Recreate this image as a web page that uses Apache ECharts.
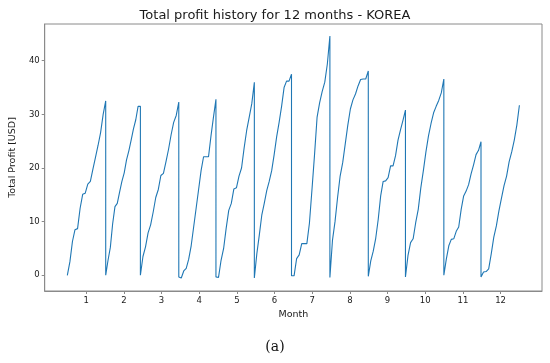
<!DOCTYPE html>
<html>
<head>
<meta charset="utf-8">
<script src="https://cdn.jsdelivr.net/npm/echarts@6/dist/echarts.min.js"></script>
<style>
html,body{margin:0;padding:0;background:#fff;}
#chart{width:550px;height:363px;}
</style>
</head>
<body>
<div id="chart"></div>
<script>
// ---- data ----
const monthDays = [31, 28, 31, 30, 31, 30, 31, 31, 30, 31, 30, 31];
const xTicks = [1, 2, 3, 4, 5, 6, 7, 8, 9, 10, 11, 12];
const yTicks = [0, 10, 20, 30, 40];
// cumulative profit, 16 evenly spaced readings through each month
const m1  = [0, 2.5, 6.3, 8.5, 8.7, 12.5, 15.1, 15.3, 17.0, 17.5, 19.8, 22.0, 24.2, 26.6, 30.0, 32.5];
const m2  = [0, 2.8, 5.2, 9.6, 12.8, 13.4, 15.5, 17.5, 19.1, 21.5, 23.2, 25.2, 27.3, 29.0, 31.5, 31.5];
const m3  = [0, 3.5, 5.3, 7.9, 9.4, 11.8, 14.5, 16.0, 18.6, 19.0, 21.2, 23.5, 26.2, 28.5, 29.8, 32.3];
const m4  = [-0.3, -0.5, 0.8, 1.3, 3.0, 5.5, 9.0, 12.5, 16.0, 19.5, 22.1, 22.1, 22.1, 26.0, 29.5, 32.8];
const m5  = [-0.3, -0.4, 2.8, 5.0, 8.8, 12.1, 13.4, 16.1, 16.3, 18.5, 20.0, 23.7, 27.0, 29.5, 32.0, 36.0];
const m6  = [-0.5, 4.0, 7.5, 11.2, 13.4, 15.8, 17.5, 19.5, 22.5, 25.8, 28.5, 31.5, 35.0, 36.2, 36.2, 37.5];
const m7  = [-0.1, -0.1, 3.1, 3.8, 5.9, 5.9, 5.9, 9.7, 16.0, 22.5, 29.5, 32.2, 34.3, 36.0, 39.4, 44.6];
const m8  = [-0.4, 6.5, 10.0, 14.5, 18.5, 21.0, 24.5, 28.0, 31.0, 32.7, 33.8, 35.3, 36.5, 36.6, 36.6, 38.1];
const m9  = [-0.2, 2.7, 4.5, 6.9, 10.4, 14.8, 17.5, 17.6, 18.2, 20.4, 20.4, 22.3, 25.2, 27.1, 28.9, 30.8];
const m10 = [-0.3, 3.7, 6.1, 6.8, 9.8, 12.3, 16.3, 19.5, 23.0, 26.0, 28.3, 30.3, 31.5, 32.6, 34.0, 36.6];
const m11 = [0, 3.0, 5.5, 6.7, 6.8, 8.2, 9.0, 12.3, 14.8, 15.7, 16.9, 18.9, 20.6, 22.5, 23.3, 24.9];
const m12 = [-0.3, 0.6, 0.7, 1.2, 4.0, 7.1, 9.2, 12.0, 14.4, 16.7, 18.5, 21.2, 23.0, 25.2, 28.0, 31.7];
const monthly = [m1, m2, m3, m4, m5, m6, m7, m8, m9, m10, m11, m12];

// build series: x = 0.5 + dayOfYear * 12 / 365
const seriesData = [];
let startDay = 0;
monthly.forEach((vals, i) => {
  const n = vals.length - 1;
  vals.forEach((v, k) => {
    const day = startDay + (k / n) * monthDays[i];
    seriesData.push([0.5 + day * 12 / 365, v]);
  });
  startDay += monthDays[i];
});

const chart = echarts.init(document.getElementById('chart'), null, {renderer: 'canvas'});
const txt = '#1a1a1a';
const frame = '#8a8a8a';
chart.setOption({
  animation: false,
  backgroundColor: '#fff',
  title: {
    text: 'Total profit history for 12 months - KOREA',
    left: 'center', top: 4,
    textStyle: {fontFamily: 'DejaVu Sans', fontSize: 13, fontWeight: 'normal', color: txt}
  },
  grid: {left: 39, right: 8, top: 24, bottom: 72, show: true, borderColor: frame, borderWidth: 1, backgroundColor: 'transparent'},
  xAxis: {
    type: 'value', min: -0.1, max: 13.1,
    name: 'Month', nameLocation: 'middle', nameGap: 13,
    nameTextStyle: {fontFamily: 'DejaVu Sans', fontSize: 9.5, color: txt},
    axisLine: {show: true, onZero: false, lineStyle: {color: frame, width: 1}},
    axisTick: {show: true, length: 3, customValues: xTicks, lineStyle: {color: frame}},
    axisLabel: {customValues: xTicks, margin: 5, fontFamily: 'DejaVu Sans', fontSize: 8.5, color: txt},
    splitLine: {show: false}
  },
  yAxis: {
    type: 'value', min: -2.93, max: 46.85,
    name: 'Total Profit [USD]', nameLocation: 'middle', nameGap: 15, nameRotate: 90,
    nameTextStyle: {fontFamily: 'DejaVu Sans', fontSize: 9.5, color: txt},
    axisLine: {show: true, onZero: false, lineStyle: {color: frame, width: 1}},
    axisTick: {show: true, length: 3, customValues: yTicks, lineStyle: {color: frame}},
    axisLabel: {customValues: yTicks, margin: 5, fontFamily: 'DejaVu Sans', fontSize: 8.5, color: txt},
    splitLine: {show: false}
  },
  graphic: [{
    type: 'text', left: 'center', top: 340,
    style: {text: '(a)', font: '14px "DejaVu Serif"', fill: '#111'}
  }],
  series: [{
    type: 'line', data: seriesData, showSymbol: false,
    lineStyle: {color: '#1f77b4', width: 1.1},
    itemStyle: {color: '#1f77b4'}
  }]
});
</script>
</body>
</html>
